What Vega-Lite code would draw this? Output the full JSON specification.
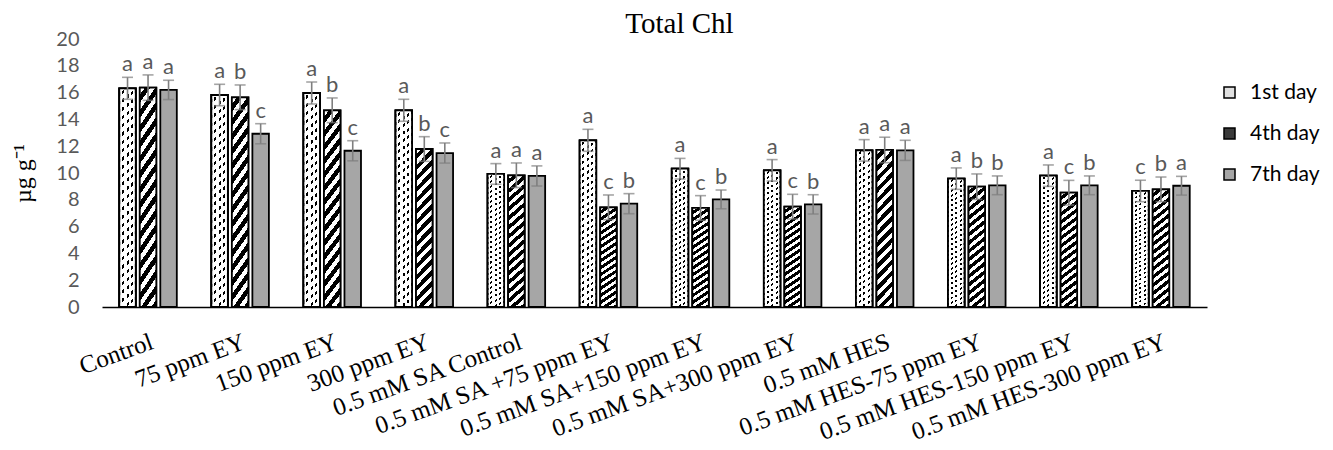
{
  "$schema": "https://vega.github.io/schema/vega-lite/v6.json",
  "width": 1105,
  "height": 268,
  "autosize": {"type": "none"},
  "padding": {"left": 102, "top": 39, "right": 126, "bottom": 143},
  "background": "white",
  "title": {"text": "Total Chl", "font": "Liberation Serif", "fontSize": 29, "fontWeight": "normal", "color": "black", "frame": "group", "anchor": "middle", "baseline": "alphabetic", "offset": 8, "dx": 25, "dy": 41},
  "data": {"values": [
    {"t": "Control", "day": "1st day", "v": 16.32, "lo": 15.50, "hi": 17.14, "l": "a"},
    {"t": "Control", "day": "4th day", "v": 16.37, "lo": 15.42, "hi": 17.32, "l": "a"},
    {"t": "Control", "day": "7th day", "v": 16.20, "lo": 15.48, "hi": 16.92, "l": "a"},
    {"t": "75 ppm EY", "day": "1st day", "v": 15.82, "lo": 15.02, "hi": 16.62, "l": "a"},
    {"t": "75 ppm EY", "day": "4th day", "v": 15.65, "lo": 14.73, "hi": 16.57, "l": "b"},
    {"t": "75 ppm EY", "day": "7th day", "v": 12.93, "lo": 12.18, "hi": 13.68, "l": "c"},
    {"t": "150 ppm EY", "day": "1st day", "v": 15.97, "lo": 15.15, "hi": 16.79, "l": "a"},
    {"t": "150 ppm EY", "day": "4th day", "v": 14.68, "lo": 13.76, "hi": 15.60, "l": "b"},
    {"t": "150 ppm EY", "day": "7th day", "v": 11.66, "lo": 10.91, "hi": 12.41, "l": "c"},
    {"t": "300 ppm EY", "day": "1st day", "v": 14.68, "lo": 13.86, "hi": 15.50, "l": "a"},
    {"t": "300 ppm EY", "day": "4th day", "v": 11.79, "lo": 10.87, "hi": 12.71, "l": "b"},
    {"t": "300 ppm EY", "day": "7th day", "v": 11.49, "lo": 10.74, "hi": 12.24, "l": "c"},
    {"t": "0.5 mM SA Control", "day": "1st day", "v": 9.93, "lo": 9.16, "hi": 10.70, "l": "a"},
    {"t": "0.5 mM SA Control", "day": "4th day", "v": 9.83, "lo": 8.91, "hi": 10.75, "l": "a"},
    {"t": "0.5 mM SA Control", "day": "7th day", "v": 9.78, "lo": 9.03, "hi": 10.53, "l": "a"},
    {"t": "0.5 mM SA +75 ppm EY", "day": "1st day", "v": 12.44, "lo": 11.62, "hi": 13.26, "l": "a"},
    {"t": "0.5 mM SA +75 ppm EY", "day": "4th day", "v": 7.44, "lo": 6.52, "hi": 8.36, "l": "c"},
    {"t": "0.5 mM SA +75 ppm EY", "day": "7th day", "v": 7.71, "lo": 6.96, "hi": 8.46, "l": "b"},
    {"t": "0.5 mM SA+150 ppm EY", "day": "1st day", "v": 10.32, "lo": 9.55, "hi": 11.09, "l": "a"},
    {"t": "0.5 mM SA+150 ppm EY", "day": "4th day", "v": 7.39, "lo": 6.47, "hi": 8.31, "l": "c"},
    {"t": "0.5 mM SA+150 ppm EY", "day": "7th day", "v": 8.03, "lo": 7.33, "hi": 8.73, "l": "b"},
    {"t": "0.5 mM SA+300 ppm EY", "day": "1st day", "v": 10.20, "lo": 9.40, "hi": 11.00, "l": "a"},
    {"t": "0.5 mM SA+300 ppm EY", "day": "4th day", "v": 7.49, "lo": 6.57, "hi": 8.41, "l": "c"},
    {"t": "0.5 mM SA+300 ppm EY", "day": "7th day", "v": 7.66, "lo": 6.94, "hi": 8.38, "l": "b"},
    {"t": "0.5 mM HES", "day": "1st day", "v": 11.69, "lo": 10.89, "hi": 12.49, "l": "a"},
    {"t": "0.5 mM HES", "day": "4th day", "v": 11.72, "lo": 10.77, "hi": 12.67, "l": "a"},
    {"t": "0.5 mM HES", "day": "7th day", "v": 11.69, "lo": 10.94, "hi": 12.44, "l": "a"},
    {"t": "0.5 mM HES-75 ppm EY", "day": "1st day", "v": 9.58, "lo": 8.78, "hi": 10.38, "l": "a"},
    {"t": "0.5 mM HES-75 ppm EY", "day": "4th day", "v": 8.98, "lo": 8.03, "hi": 9.93, "l": "b"},
    {"t": "0.5 mM HES-75 ppm EY", "day": "7th day", "v": 9.08, "lo": 8.38, "hi": 9.78, "l": "b"},
    {"t": "0.5 mM HES-150 ppm EY", "day": "1st day", "v": 9.80, "lo": 9.00, "hi": 10.60, "l": "a"},
    {"t": "0.5 mM HES-150 ppm EY", "day": "4th day", "v": 8.53, "lo": 7.61, "hi": 9.45, "l": "c"},
    {"t": "0.5 mM HES-150 ppm EY", "day": "7th day", "v": 9.08, "lo": 8.38, "hi": 9.78, "l": "b"},
    {"t": "0.5 mM HES-300 ppm EY", "day": "1st day", "v": 8.66, "lo": 7.86, "hi": 9.46, "l": "c"},
    {"t": "0.5 mM HES-300 ppm EY", "day": "4th day", "v": 8.78, "lo": 7.86, "hi": 9.70, "l": "b"},
    {"t": "0.5 mM HES-300 ppm EY", "day": "7th day", "v": 9.05, "lo": 8.35, "hi": 9.75, "l": "a"}
  ]},
  "encoding": {
    "x": {
      "field": "t", "type": "nominal", "sort": null,
      "scale": {"paddingInner": 0.375, "paddingOuter": 0.1875},
      "axis": {"title": null, "domainColor": "black", "domainWidth": 1.5, "ticks": false, "tickSize": 0, "labelAngle": -20, "labelAlign": "right", "labelBaseline": "top", "labelFont": "Liberation Serif", "labelFontSize": 25, "labelColor": "black", "labelPadding": 22, "labelLimit": 400, "labelOverlap": false}
    },
    "xOffset": {"field": "day", "type": "nominal", "sort": ["1st day", "4th day", "7th day"], "scale": {"paddingInner": 0.195, "paddingOuter": 0}}
  },
  "layer": [
    {
      "mark": {"type": "bar", "stroke": "black", "strokeWidth": 1.8},
      "encoding": {
        "y": {"field": "v", "type": "quantitative", "title": "µg g⁻¹", "scale": {"domain": [0, 20], "nice": false}},
        "fill": {
          "field": "day", "type": "nominal",
          "scale": {"domain": ["1st day", "4th day", "7th day"], "range": ["#e0e0e0", "#3a3a3a", "#a6a6a6"]},
          "legend": {
            "title": null, "orient": "none", "legendX": 1117, "legendY": 43, "padding": 0,
            "symbolType": "square", "symbolSize": 121, "symbolStrokeColor": "black", "symbolStrokeWidth": 1.5,
            "labelFont": "Lato", "labelFontSize": 21, "labelColor": "black", "labelOffset": 10, "rowPadding": 19
          }
        }
      }
    },
    {
      "transform": [{"filter": "datum.day === '1st day'"}],
      "mark": {"type": "bar", "stroke": "black", "strokeWidth": 1.8, "fill": {"gradient": "linear", "x1": 0, "y1": 0, "x2": 1, "y2": 0, "stops": [
        {"offset": 0, "color": "#ffffff"}, {"offset": 0.17, "color": "#ffffff"}, {"offset": 0.17, "color": "#000000"}, {"offset": 0.29, "color": "#000000"},
        {"offset": 0.29, "color": "#ffffff"}, {"offset": 0.44, "color": "#ffffff"}, {"offset": 0.44, "color": "#000000"}, {"offset": 0.56, "color": "#000000"},
        {"offset": 0.56, "color": "#ffffff"}, {"offset": 0.71, "color": "#ffffff"}, {"offset": 0.71, "color": "#000000"}, {"offset": 0.83, "color": "#000000"},
        {"offset": 0.83, "color": "#ffffff"}, {"offset": 1, "color": "#ffffff"}]}},
      "encoding": {"y": {"field": "v", "type": "quantitative", "title": "µg g⁻¹"}}
    },
    {
      "transform": [{"filter": "datum.day === '1st day'"}],
      "mark": {"type": "bar", "stroke": "black", "strokeWidth": 1.8, "fill": {"gradient": "linear", "x1": 0, "y1": 0, "x2": 0.064, "y2": 1.06, "stops": [
        {"offset": 0, "color": "#ffffff"}, {"offset": 0.0214, "color": "#ffffff"}, {"offset": 0.0214, "color": "rgba(255,255,255,0)"}, {"offset": 0.0357, "color": "rgba(255,255,255,0)"},
        {"offset": 0.0357, "color": "#ffffff"}, {"offset": 0.0571, "color": "#ffffff"}, {"offset": 0.0571, "color": "rgba(255,255,255,0)"}, {"offset": 0.0714, "color": "rgba(255,255,255,0)"},
        {"offset": 0.0714, "color": "#ffffff"}, {"offset": 0.0928, "color": "#ffffff"}, {"offset": 0.0928, "color": "rgba(255,255,255,0)"}, {"offset": 0.1071, "color": "rgba(255,255,255,0)"},
        {"offset": 0.1071, "color": "#ffffff"}, {"offset": 0.1285, "color": "#ffffff"}, {"offset": 0.1285, "color": "rgba(255,255,255,0)"}, {"offset": 0.1429, "color": "rgba(255,255,255,0)"},
        {"offset": 0.1429, "color": "#ffffff"}, {"offset": 0.1643, "color": "#ffffff"}, {"offset": 0.1643, "color": "rgba(255,255,255,0)"}, {"offset": 0.1786, "color": "rgba(255,255,255,0)"},
        {"offset": 0.1786, "color": "#ffffff"}, {"offset": 0.2, "color": "#ffffff"}, {"offset": 0.2, "color": "rgba(255,255,255,0)"}, {"offset": 0.2143, "color": "rgba(255,255,255,0)"},
        {"offset": 0.2143, "color": "#ffffff"}, {"offset": 0.2357, "color": "#ffffff"}, {"offset": 0.2357, "color": "rgba(255,255,255,0)"}, {"offset": 0.25, "color": "rgba(255,255,255,0)"},
        {"offset": 0.25, "color": "#ffffff"}, {"offset": 0.2714, "color": "#ffffff"}, {"offset": 0.2714, "color": "rgba(255,255,255,0)"}, {"offset": 0.2857, "color": "rgba(255,255,255,0)"},
        {"offset": 0.2857, "color": "#ffffff"}, {"offset": 0.3071, "color": "#ffffff"}, {"offset": 0.3071, "color": "rgba(255,255,255,0)"}, {"offset": 0.3214, "color": "rgba(255,255,255,0)"},
        {"offset": 0.3214, "color": "#ffffff"}, {"offset": 0.3428, "color": "#ffffff"}, {"offset": 0.3428, "color": "rgba(255,255,255,0)"}, {"offset": 0.3571, "color": "rgba(255,255,255,0)"},
        {"offset": 0.3571, "color": "#ffffff"}, {"offset": 0.3785, "color": "#ffffff"}, {"offset": 0.3785, "color": "rgba(255,255,255,0)"}, {"offset": 0.3929, "color": "rgba(255,255,255,0)"},
        {"offset": 0.3929, "color": "#ffffff"}, {"offset": 0.4143, "color": "#ffffff"}, {"offset": 0.4143, "color": "rgba(255,255,255,0)"}, {"offset": 0.4286, "color": "rgba(255,255,255,0)"},
        {"offset": 0.4286, "color": "#ffffff"}, {"offset": 0.45, "color": "#ffffff"}, {"offset": 0.45, "color": "rgba(255,255,255,0)"}, {"offset": 0.4643, "color": "rgba(255,255,255,0)"},
        {"offset": 0.4643, "color": "#ffffff"}, {"offset": 0.4857, "color": "#ffffff"}, {"offset": 0.4857, "color": "rgba(255,255,255,0)"}, {"offset": 0.5, "color": "rgba(255,255,255,0)"},
        {"offset": 0.5, "color": "#ffffff"}, {"offset": 0.5214, "color": "#ffffff"}, {"offset": 0.5214, "color": "rgba(255,255,255,0)"}, {"offset": 0.5357, "color": "rgba(255,255,255,0)"},
        {"offset": 0.5357, "color": "#ffffff"}, {"offset": 0.5571, "color": "#ffffff"}, {"offset": 0.5571, "color": "rgba(255,255,255,0)"}, {"offset": 0.5714, "color": "rgba(255,255,255,0)"},
        {"offset": 0.5714, "color": "#ffffff"}, {"offset": 0.5928, "color": "#ffffff"}, {"offset": 0.5928, "color": "rgba(255,255,255,0)"}, {"offset": 0.6071, "color": "rgba(255,255,255,0)"},
        {"offset": 0.6071, "color": "#ffffff"}, {"offset": 0.6285, "color": "#ffffff"}, {"offset": 0.6285, "color": "rgba(255,255,255,0)"}, {"offset": 0.6429, "color": "rgba(255,255,255,0)"},
        {"offset": 0.6429, "color": "#ffffff"}, {"offset": 0.6643, "color": "#ffffff"}, {"offset": 0.6643, "color": "rgba(255,255,255,0)"}, {"offset": 0.6786, "color": "rgba(255,255,255,0)"},
        {"offset": 0.6786, "color": "#ffffff"}, {"offset": 0.7, "color": "#ffffff"}, {"offset": 0.7, "color": "rgba(255,255,255,0)"}, {"offset": 0.7143, "color": "rgba(255,255,255,0)"},
        {"offset": 0.7143, "color": "#ffffff"}, {"offset": 0.7357, "color": "#ffffff"}, {"offset": 0.7357, "color": "rgba(255,255,255,0)"}, {"offset": 0.75, "color": "rgba(255,255,255,0)"},
        {"offset": 0.75, "color": "#ffffff"}, {"offset": 0.7714, "color": "#ffffff"}, {"offset": 0.7714, "color": "rgba(255,255,255,0)"}, {"offset": 0.7857, "color": "rgba(255,255,255,0)"},
        {"offset": 0.7857, "color": "#ffffff"}, {"offset": 0.8071, "color": "#ffffff"}, {"offset": 0.8071, "color": "rgba(255,255,255,0)"}, {"offset": 0.8214, "color": "rgba(255,255,255,0)"},
        {"offset": 0.8214, "color": "#ffffff"}, {"offset": 0.8428, "color": "#ffffff"}, {"offset": 0.8428, "color": "rgba(255,255,255,0)"}, {"offset": 0.8571, "color": "rgba(255,255,255,0)"},
        {"offset": 0.8571, "color": "#ffffff"}, {"offset": 0.8785, "color": "#ffffff"}, {"offset": 0.8785, "color": "rgba(255,255,255,0)"}, {"offset": 0.8929, "color": "rgba(255,255,255,0)"},
        {"offset": 0.8929, "color": "#ffffff"}, {"offset": 0.9143, "color": "#ffffff"}, {"offset": 0.9143, "color": "rgba(255,255,255,0)"}, {"offset": 0.9286, "color": "rgba(255,255,255,0)"},
        {"offset": 0.9286, "color": "#ffffff"}, {"offset": 0.95, "color": "#ffffff"}, {"offset": 0.95, "color": "rgba(255,255,255,0)"}, {"offset": 0.9643, "color": "rgba(255,255,255,0)"},
        {"offset": 0.9643, "color": "#ffffff"}, {"offset": 0.9857, "color": "#ffffff"}, {"offset": 0.9857, "color": "rgba(255,255,255,0)"}, {"offset": 1, "color": "rgba(255,255,255,0)"}]}},
      "encoding": {"y": {"field": "v", "type": "quantitative", "title": "µg g⁻¹"}}
    },
    {
      "transform": [{"filter": "datum.day === '4th day'"}],
      "mark": {"type": "bar", "stroke": "black", "strokeWidth": 1.8, "fill": {"gradient": "linear", "x1": 0, "y1": 0, "x2": 0.121, "y2": 1.1, "stops": [
        {"offset": 0, "color": "#ffffff"}, {"offset": 0.03, "color": "#ffffff"}, {"offset": 0.03, "color": "#000000"}, {"offset": 0.0625, "color": "#000000"},
        {"offset": 0.0625, "color": "#ffffff"}, {"offset": 0.0925, "color": "#ffffff"}, {"offset": 0.0925, "color": "#000000"}, {"offset": 0.125, "color": "#000000"},
        {"offset": 0.125, "color": "#ffffff"}, {"offset": 0.155, "color": "#ffffff"}, {"offset": 0.155, "color": "#000000"}, {"offset": 0.1875, "color": "#000000"},
        {"offset": 0.1875, "color": "#ffffff"}, {"offset": 0.2175, "color": "#ffffff"}, {"offset": 0.2175, "color": "#000000"}, {"offset": 0.25, "color": "#000000"},
        {"offset": 0.25, "color": "#ffffff"}, {"offset": 0.28, "color": "#ffffff"}, {"offset": 0.28, "color": "#000000"}, {"offset": 0.3125, "color": "#000000"},
        {"offset": 0.3125, "color": "#ffffff"}, {"offset": 0.3425, "color": "#ffffff"}, {"offset": 0.3425, "color": "#000000"}, {"offset": 0.375, "color": "#000000"},
        {"offset": 0.375, "color": "#ffffff"}, {"offset": 0.405, "color": "#ffffff"}, {"offset": 0.405, "color": "#000000"}, {"offset": 0.4375, "color": "#000000"},
        {"offset": 0.4375, "color": "#ffffff"}, {"offset": 0.4675, "color": "#ffffff"}, {"offset": 0.4675, "color": "#000000"}, {"offset": 0.5, "color": "#000000"},
        {"offset": 0.5, "color": "#ffffff"}, {"offset": 0.53, "color": "#ffffff"}, {"offset": 0.53, "color": "#000000"}, {"offset": 0.5625, "color": "#000000"},
        {"offset": 0.5625, "color": "#ffffff"}, {"offset": 0.5925, "color": "#ffffff"}, {"offset": 0.5925, "color": "#000000"}, {"offset": 0.625, "color": "#000000"},
        {"offset": 0.625, "color": "#ffffff"}, {"offset": 0.655, "color": "#ffffff"}, {"offset": 0.655, "color": "#000000"}, {"offset": 0.6875, "color": "#000000"},
        {"offset": 0.6875, "color": "#ffffff"}, {"offset": 0.7175, "color": "#ffffff"}, {"offset": 0.7175, "color": "#000000"}, {"offset": 0.75, "color": "#000000"},
        {"offset": 0.75, "color": "#ffffff"}, {"offset": 0.78, "color": "#ffffff"}, {"offset": 0.78, "color": "#000000"}, {"offset": 0.8125, "color": "#000000"},
        {"offset": 0.8125, "color": "#ffffff"}, {"offset": 0.8425, "color": "#ffffff"}, {"offset": 0.8425, "color": "#000000"}, {"offset": 0.875, "color": "#000000"},
        {"offset": 0.875, "color": "#ffffff"}, {"offset": 0.905, "color": "#ffffff"}, {"offset": 0.905, "color": "#000000"}, {"offset": 0.9375, "color": "#000000"},
        {"offset": 0.9375, "color": "#ffffff"}, {"offset": 0.9675, "color": "#ffffff"}, {"offset": 0.9675, "color": "#000000"}, {"offset": 1, "color": "#000000"}]}},
      "encoding": {"y": {"field": "v", "type": "quantitative", "title": "µg g⁻¹"}}
    },
    {
      "mark": {"type": "rule", "color": "#7f7f7f", "strokeWidth": 1.6},
      "encoding": {"y": {"field": "lo", "type": "quantitative", "title": "µg g⁻¹"}, "y2": {"field": "hi"}}
    },
    {
      "mark": {"type": "tick", "color": "#7f7f7f", "thickness": 1.6, "size": 11},
      "encoding": {"y": {"field": "hi", "type": "quantitative", "title": "µg g⁻¹"}}
    },
    {
      "mark": {"type": "tick", "color": "#7f7f7f", "thickness": 1.6, "size": 11},
      "encoding": {"y": {"field": "lo", "type": "quantitative", "title": "µg g⁻¹"}}
    },
    {
      "mark": {"type": "text", "font": "Lato", "fontSize": 22, "color": "#595959", "baseline": "alphabetic", "dy": -6},
      "encoding": {"y": {"field": "hi", "type": "quantitative", "title": "µg g⁻¹"}, "text": {"field": "l"}}
    }
  ],
  "config": {
    "view": {"stroke": null},
    "axis": {"grid": false},
    "axisY": {"domain": false, "ticks": false, "tickSize": 0, "tickCount": 10, "labelFont": "Lato", "labelFontSize": 20, "labelColor": "#595959", "labelPadding": 23, "titleFont": "Liberation Serif", "titleFontSize": 24, "titleFontWeight": "normal", "titleColor": "black", "titlePadding": 20}
  }
}
